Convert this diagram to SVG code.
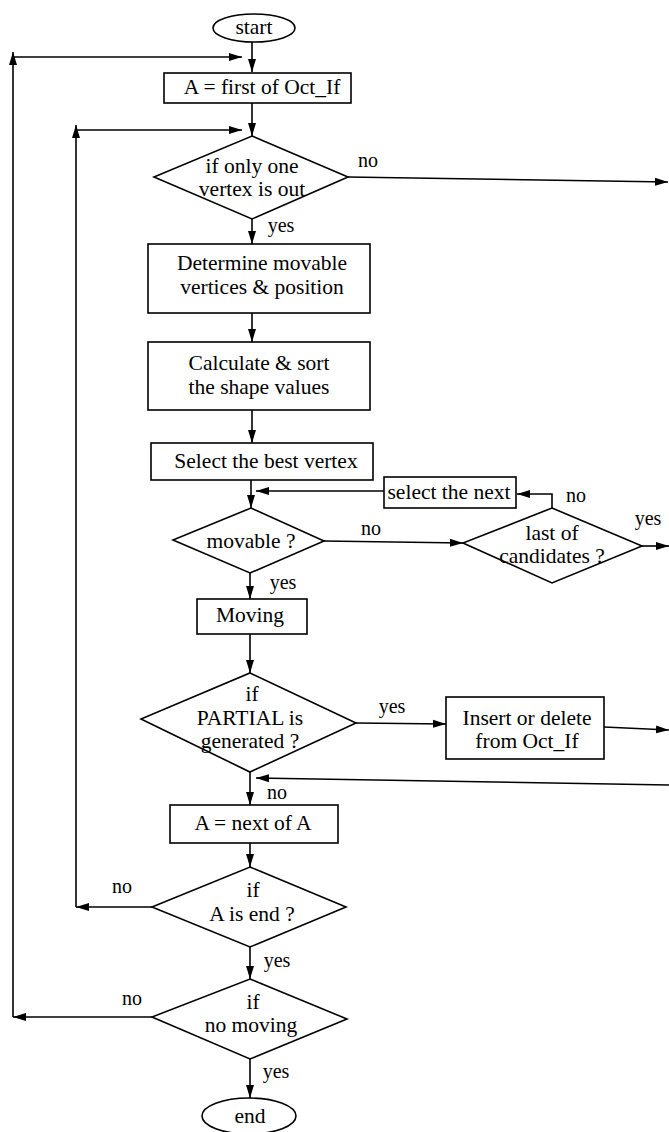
<svg xmlns="http://www.w3.org/2000/svg" width="669" height="1132" viewBox="0 0 669 1132">
<style>
.s{fill:#fff;stroke:#000;stroke-width:1.6}
.c{fill:none;stroke:#000;stroke-width:1.6}
text{font-family:"Liberation Serif","Times New Roman",serif;font-size:21.5px;fill:#000;text-anchor:middle}
.lb{font-size:20px}
</style>
<defs>
<marker id="a" markerUnits="userSpaceOnUse" markerWidth="14" markerHeight="10" refX="13" refY="5" orient="auto">
<path d="M0,1 L13,5 L0,9 Z" fill="#000"/>
</marker>
</defs>
<rect width="669" height="1132" fill="#fff"/>
<g id="connectors">
<path class="c" d="M252,42 V72" marker-end="url(#a)"/>
<path class="c" d="M13,1017 V52" marker-end="url(#a)"/>
<path class="c" d="M13,57 H242" marker-end="url(#a)"/>
<path class="c" d="M252,103 V136" marker-end="url(#a)"/>
<path class="c" d="M76,907 V125" marker-end="url(#a)"/>
<path class="c" d="M76,130 H242" marker-end="url(#a)"/>
<path class="c" d="M348,177 L668,182" marker-end="url(#a)"/>
<path class="c" d="M252,219 V244" marker-end="url(#a)"/>
<path class="c" d="M252,313 V342" marker-end="url(#a)"/>
<path class="c" d="M252,410 V443" marker-end="url(#a)"/>
<path class="c" d="M251,480 V508" marker-end="url(#a)"/>
<path class="c" d="M384,491 H256" marker-end="url(#a)"/>
<path class="c" d="M552,508 V494 H517" marker-end="url(#a)"/>
<path class="c" d="M324,541 L463,543" marker-end="url(#a)"/>
<path class="c" d="M642,546 H669" marker-end="url(#a)"/>
<path class="c" d="M250,573 V599" marker-end="url(#a)"/>
<path class="c" d="M250,634 V673" marker-end="url(#a)"/>
<path class="c" d="M356,723 L446,724" marker-end="url(#a)"/>
<path class="c" d="M604,727 L669,730" marker-end="url(#a)"/>
<path class="c" d="M669,785 L256,778" marker-end="url(#a)"/>
<path class="c" d="M250,772 V805" marker-end="url(#a)"/>
<path class="c" d="M250,843 V867" marker-end="url(#a)"/>
<path class="c" d="M152,907 H76" marker-end="url(#a)"/>
<path class="c" d="M250,947 V979" marker-end="url(#a)"/>
<path class="c" d="M152,1017 H13" marker-end="url(#a)"/>
<path class="c" d="M250,1059 V1098" marker-end="url(#a)"/>
</g>
<g id="labels">
<text class="lb" x="368" y="167">no</text>
<text class="lb" x="281" y="232">yes</text>
<text class="lb" x="576" y="502">no</text>
<text class="lb" x="648" y="525">yes</text>
<text class="lb" x="371" y="535">no</text>
<text class="lb" x="283" y="589">yes</text>
<text class="lb" x="392" y="713">yes</text>
<text class="lb" x="277" y="799">no</text>
<text class="lb" x="122" y="893">no</text>
<text class="lb" x="277" y="967">yes</text>
<text class="lb" x="132" y="1005">no</text>
<text class="lb" x="276" y="1078">yes</text>
</g>
<g id="start"><ellipse class="s" cx="254" cy="28" rx="41" ry="14"/><text x="254" y="34">start</text></g>
<g id="firstA"><rect class="s" x="164" y="73" width="187" height="30"/><text x="262" y="94">A = first of Oct_If</text></g>
<g id="oneout"><polygon class="s" points="252,136 348,177 252,219 154,177"/><text x="252" y="173">if only one</text><text x="252" y="196">vertex is out</text></g>
<g id="determine"><rect class="s" x="148" y="244" width="222" height="69"/><text x="262" y="270">Determine movable</text><text x="262" y="294">vertices &amp; position</text></g>
<g id="calc"><rect class="s" x="148" y="342" width="222" height="68"/><text x="259" y="370">Calculate &amp; sort</text><text x="259" y="394">the shape values</text></g>
<g id="best"><rect class="s" x="151" y="443" width="222" height="37"/><text x="266" y="468">Select the best vertex</text></g>
<g id="selnext"><rect class="s" x="384" y="477" width="132" height="31"/><text x="449" y="499">select the next</text></g>
<g id="movable"><polygon class="s" points="251,508 324,541 250,573 173,540"/><text x="251" y="548">movable ?</text></g>
<g id="last"><polygon class="s" points="552,508 642,546 552,583 463,543"/><text x="552" y="540">last of</text><text x="552" y="563">candidates ?</text></g>
<g id="moving"><rect class="s" x="197" y="599" width="110" height="35"/><text x="250" y="622">Moving</text></g>
<g id="partial"><polygon class="s" points="250,673 356,723 250,772 141,719"/><text x="252" y="701">if</text><text x="250" y="725">PARTIAL is</text><text x="250" y="748">generated ?</text></g>
<g id="insert"><rect class="s" x="446" y="697" width="158" height="62"/><text x="527" y="725">Insert or delete</text><text x="527" y="748">from Oct_If</text></g>
<g id="nextA"><rect class="s" x="170" y="805" width="168" height="38"/><text x="253" y="830">A = next of A</text></g>
<g id="isend"><polygon class="s" points="250,867 346,907 250,947 152,907"/><text x="253" y="897">if</text><text x="252" y="921">A is end ?</text></g>
<g id="nomove"><polygon class="s" points="250,979 347,1019 250,1059 152,1017"/><text x="253" y="1009">if</text><text x="251" y="1032">no moving</text></g>
<g id="end"><ellipse class="s" cx="249" cy="1116" rx="47" ry="18"/><text x="250" y="1123">end</text></g>
</svg>
